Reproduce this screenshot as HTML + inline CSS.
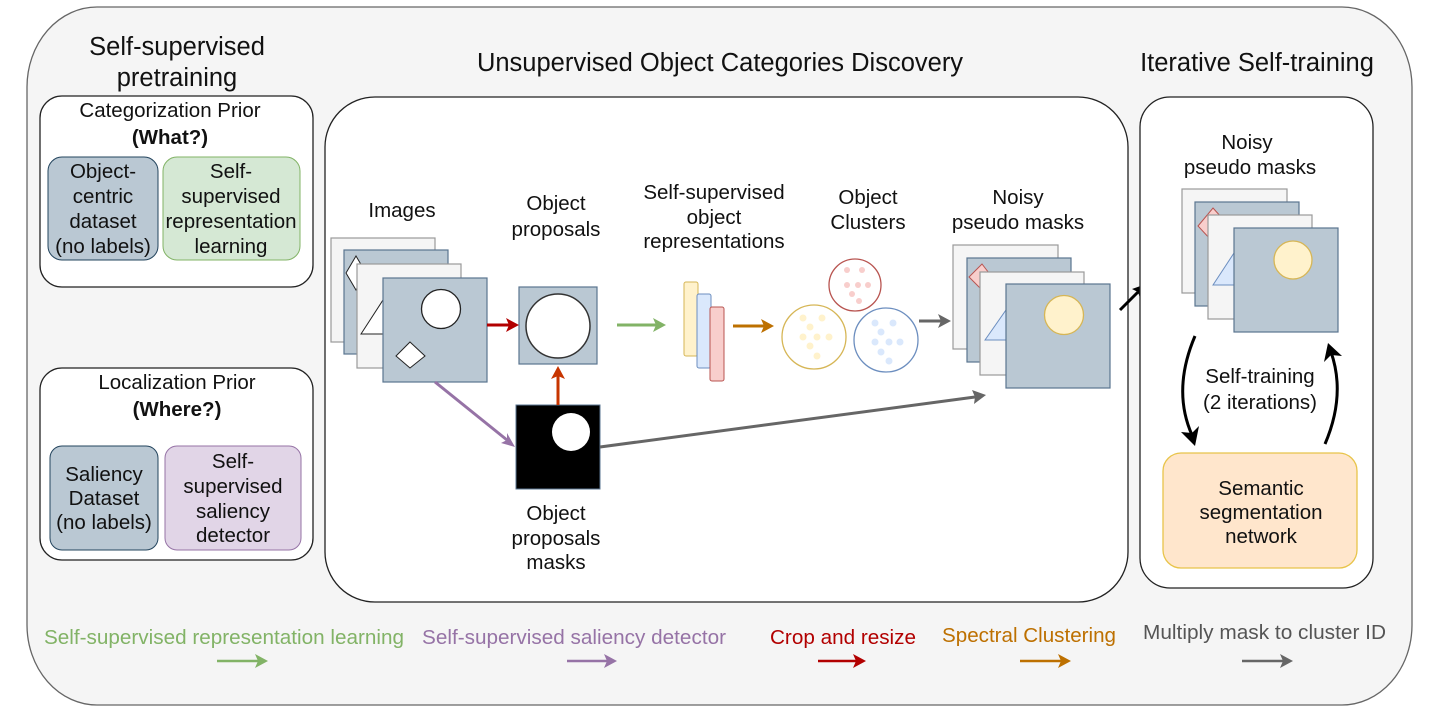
<!DOCTYPE html>
<html><head><meta charset="utf-8"><style>
html,body{margin:0;padding:0;background:#fff;}
svg{display:block;font-family:"Liberation Sans",Arial,sans-serif;}
</style></head><body>
<svg width="1429" height="717" viewBox="0 0 1429 717" xmlns="http://www.w3.org/2000/svg">
<!-- outer -->
<rect x="27" y="7" width="1385" height="698" rx="70" ry="80" fill="#f5f5f5" stroke="#666" stroke-width="1.3"/>

<!-- titles -->
<g font-size="25.5" fill="#111" text-anchor="middle">
<text x="177" y="55">Self-supervised</text>
<text x="177" y="86">pretraining</text>
<text x="720" y="71">Unsupervised Object Categories Discovery</text>
<text x="1257" y="71">Iterative Self-training</text>
</g>

<!-- left boxes -->
<rect x="40" y="96" width="273" height="191" rx="22" fill="#fff" stroke="#222" stroke-width="1.3"/>
<rect x="40" y="368" width="273" height="192" rx="22" fill="#fff" stroke="#222" stroke-width="1.3"/>
<g font-size="20.5" fill="#111" text-anchor="middle">
<text x="170" y="117">Categorization Prior</text>
<text x="170" y="144" font-weight="bold">(What?)</text>
<text x="177" y="389">Localization Prior</text>
<text x="177" y="416" font-weight="bold">(Where?)</text>
</g>
<rect x="48" y="157" width="110" height="103" rx="14" fill="#bac8d3" stroke="#23445d" stroke-width="1"/>
<rect x="163" y="157" width="137" height="103" rx="14" fill="#d5e8d4" stroke="#82b366" stroke-width="1"/>
<rect x="50" y="446" width="108" height="104" rx="12" fill="#bac8d3" stroke="#23445d" stroke-width="1"/>
<rect x="165" y="446" width="136" height="104" rx="12" fill="#e1d5e7" stroke="#9673a6" stroke-width="1"/>
<g font-size="20.5" fill="#111" text-anchor="middle">
<text x="103" y="178">Object-</text><text x="103" y="203">centric</text><text x="103" y="228">dataset</text><text x="103" y="253">(no labels)</text>
<text x="231" y="178">Self-</text><text x="231" y="203">supervised</text><text x="231" y="228">representation</text><text x="231" y="253">learning</text>
<text x="104" y="481">Saliency</text><text x="104" y="505">Dataset</text><text x="104" y="529">(no labels)</text>
<text x="233" y="468">Self-</text><text x="233" y="493">supervised</text><text x="233" y="518">saliency</text><text x="233" y="542">detector</text>
</g>

<!-- middle box -->
<rect x="325" y="97" width="803" height="505" rx="50" fill="#fff" stroke="#222" stroke-width="1.3"/>
<g font-size="20.5" fill="#111" text-anchor="middle">
<text x="402" y="217">Images</text>
<text x="556" y="210">Object</text><text x="556" y="236">proposals</text>
<text x="714" y="199">Self-supervised</text><text x="714" y="224">object</text><text x="714" y="248">representations</text>
<text x="868" y="204">Object</text><text x="868" y="229">Clusters</text>
<text x="1018" y="204">Noisy</text><text x="1018" y="229">pseudo masks</text>
<text x="556" y="520">Object</text><text x="556" y="545">proposals</text><text x="556" y="569">masks</text>
</g>

<!-- images stack -->
<rect x="331" y="238" width="104" height="104" fill="#f5f5f5" stroke="#999" stroke-width="1.2"/>
<rect x="344" y="250" width="104" height="104" fill="#bac8d3" stroke="#5a7490" stroke-width="1.2"/>
<path d="M356,256 L366,273 L356,290 L346,273 Z" fill="#fff" stroke="#222"/>
<rect x="357" y="264" width="104" height="104" fill="#f5f5f5" stroke="#999" stroke-width="1.2"/>
<path d="M361,334 L383,300 L383,334 Z" fill="#fff" stroke="#222"/>
<rect x="383" y="278" width="104" height="104" fill="#bac8d3" stroke="#5a7490" stroke-width="1.2"/>
<circle cx="441" cy="309" r="19.5" fill="#fff" stroke="#222" stroke-width="1.3"/>
<path d="M410,342 L425,356 L410,368 L396,356 Z" fill="#fff" stroke="#222"/>

<!-- proposal -->
<rect x="519" y="287" width="78" height="77" fill="#bac8d3" stroke="#5a7490" stroke-width="1.2"/>
<circle cx="558" cy="326" r="32" fill="#fff" stroke="#333" stroke-width="1.5"/>
<!-- mask -->
<rect x="516" y="405" width="84" height="84" fill="#000" stroke="#5a7490" stroke-width="1"/>
<circle cx="571" cy="432" r="19" fill="#fff"/>

<!-- arrows middle -->
<line x1="487" y1="325" x2="509" y2="325" stroke="#b20000" stroke-width="3"/>
<path d="M519,325 L506,318 L509,325 L506,332 Z" fill="#b20000"/>
<line x1="558" y1="405" x2="558" y2="376" stroke="#c73500" stroke-width="3"/>
<path d="M558,366 L551,379 L558,376 L565,379 Z" fill="#c73500"/>
<line x1="435" y1="382" x2="507" y2="440" stroke="#9673a6" stroke-width="3"/>
<path d="M515,447 L501,443 L507,440 L507,433 Z" fill="#9673a6"/>
<line x1="600" y1="447" x2="975" y2="397" stroke="#666" stroke-width="3"/>
<path d="M986,395 L972,390 L975,397 L974,404 Z" fill="#666"/>
<line x1="617" y1="325" x2="656" y2="325" stroke="#82b366" stroke-width="3"/>
<path d="M666,325 L653,318 L656,325 L653,332 Z" fill="#82b366"/>
<line x1="733" y1="326" x2="764" y2="326" stroke="#bd7000" stroke-width="3"/>
<path d="M774,326 L761,319 L764,326 L761,333 Z" fill="#bd7000"/>
<line x1="919" y1="321" x2="941" y2="321" stroke="#666" stroke-width="3"/>
<path d="M951,321 L938,314 L941,321 L938,328 Z" fill="#666"/>
<line x1="1120" y1="310" x2="1138" y2="292" stroke="#000" stroke-width="3"/>
<path d="M1146,284 L1132,289 L1138,292 L1140,298 Z" fill="#000"/>

<!-- features -->
<rect x="684" y="282" width="14" height="74" rx="2" fill="#fff2cc" stroke="#d6b656"/>
<rect x="697" y="294" width="14" height="74" rx="2" fill="#dae8fc" stroke="#6c8ebf"/>
<rect x="710" y="307" width="14" height="74" rx="2" fill="#f8cecc" stroke="#b85450"/>

<!-- clusters -->
<circle cx="814" cy="337" r="32" fill="#fff" stroke="#d6b656" stroke-width="1.3"/>
<circle cx="855" cy="285" r="26" fill="#fff" stroke="#b85450" stroke-width="1.3"/>
<circle cx="886" cy="340" r="32" fill="#fff" stroke="#6c8ebf" stroke-width="1.3"/>
<g fill="#fff2cc"><circle cx="803" cy="318" r="3.5"/><circle cx="822" cy="318" r="3.5"/><circle cx="810" cy="327" r="3.5"/><circle cx="803" cy="337" r="3.5"/><circle cx="817" cy="337" r="3.5"/><circle cx="829" cy="337" r="3.5"/><circle cx="810" cy="346" r="3.5"/><circle cx="817" cy="356" r="3.5"/></g>
<g fill="#f8cecc"><circle cx="847" cy="270" r="3"/><circle cx="862" cy="270" r="3"/><circle cx="847" cy="285" r="3"/><circle cx="858" cy="285" r="3"/><circle cx="868" cy="285" r="3"/><circle cx="852" cy="294" r="3"/><circle cx="859" cy="301" r="3"/></g>
<g fill="#dae8fc"><circle cx="875" cy="323" r="3.5"/><circle cx="893" cy="323" r="3.5"/><circle cx="881" cy="332" r="3.5"/><circle cx="875" cy="342" r="3.5"/><circle cx="889" cy="342" r="3.5"/><circle cx="900" cy="342" r="3.5"/><circle cx="881" cy="352" r="3.5"/><circle cx="889" cy="361" r="3.5"/></g>

<!-- noisy stack middle -->
<rect x="953" y="245" width="105" height="104" fill="#f5f5f5" stroke="#999" stroke-width="1.2"/>
<rect x="967" y="258" width="104" height="104" fill="#bac8d3" stroke="#5a7490" stroke-width="1.2"/>
<path d="M982,264 L992,277 L982,290 L969,277 Z" fill="#f8cecc" stroke="#b85450"/>
<rect x="980" y="272" width="104" height="103" fill="#f5f5f5" stroke="#999" stroke-width="1.2"/>
<path d="M985,340 L1006,310 L1006,340 Z" fill="#dae8fc" stroke="#6c8ebf"/>
<rect x="1006" y="284" width="104" height="104" fill="#bac8d3" stroke="#5a7490" stroke-width="1.2"/>
<circle cx="1064" cy="315" r="19.5" fill="#fff2cc" stroke="#d6b656" stroke-width="1.3"/>

<!-- right box -->
<rect x="1140" y="97" width="233" height="491" rx="30" fill="#fff" stroke="#222" stroke-width="1.3"/>
<g font-size="20.5" fill="#111" text-anchor="middle">
<text x="1247" y="149">Noisy</text><text x="1250" y="174">pseudo masks</text>
<text x="1260" y="383">Self-training</text><text x="1260" y="409">(2 iterations)</text>
</g>
<rect x="1182" y="189" width="105" height="104" fill="#f5f5f5" stroke="#999" stroke-width="1.2"/>
<rect x="1195" y="202" width="104" height="104" fill="#bac8d3" stroke="#5a7490" stroke-width="1.2"/>
<path d="M1213,208 L1222,218 L1211,240 L1198,226 Z" fill="#f8cecc" stroke="#b85450"/>
<rect x="1208" y="215" width="104" height="104" fill="#f5f5f5" stroke="#999" stroke-width="1.2"/>
<path d="M1213,285 L1234,253 L1234,285 Z" fill="#dae8fc" stroke="#6c8ebf"/>
<rect x="1234" y="228" width="104" height="104" fill="#bac8d3" stroke="#5a7490" stroke-width="1.2"/>
<circle cx="1293" cy="260" r="19" fill="#fff2cc" stroke="#d6b656" stroke-width="1.3"/>

<path d="M1195,336 Q1172,390 1192,435" fill="none" stroke="#000" stroke-width="3"/>
<path d="M1195,446 L1181,432 L1192,433 L1199,426 Z" fill="#000"/>
<path d="M1325,444 Q1346,395 1331,352" fill="none" stroke="#000" stroke-width="3"/>
<path d="M1328,343 L1342,356 L1331,355 L1324,362 Z" fill="#000"/>

<rect x="1163" y="453" width="194" height="115" rx="18" fill="#ffe6cc" stroke="#e8c44a" stroke-width="1.3"/>
<g font-size="20.5" fill="#111" text-anchor="middle">
<text x="1261" y="495">Semantic</text><text x="1261" y="519">segmentation</text><text x="1261" y="543">network</text>
</g>

<!-- legend -->
<g font-size="20">
<text x="44" y="644" fill="#82b366" textLength="360" lengthAdjust="spacingAndGlyphs">Self-supervised representation learning</text>
<text x="422" y="644" fill="#9673a6" textLength="304" lengthAdjust="spacingAndGlyphs">Self-supervised saliency detector</text>
<text x="770" y="644" fill="#b20000" textLength="146" lengthAdjust="spacingAndGlyphs">Crop and resize</text>
<text x="942" y="642" fill="#bd7000" textLength="174" lengthAdjust="spacingAndGlyphs">Spectral Clustering</text>
<text x="1143" y="639" fill="#555" textLength="243" lengthAdjust="spacingAndGlyphs">Multiply mask to cluster ID</text>
</g>
<g stroke-width="2.5">
<line x1="217" y1="661" x2="258" y2="661" stroke="#82b366"/><path d="M268,661 L255,654 L258,661 L255,668 Z" fill="#82b366"/>
<line x1="567" y1="661" x2="607" y2="661" stroke="#9673a6"/><path d="M617,661 L604,654 L607,661 L604,668 Z" fill="#9673a6"/>
<line x1="818" y1="661" x2="856" y2="661" stroke="#b20000"/><path d="M866,661 L853,654 L856,661 L853,668 Z" fill="#b20000"/>
<line x1="1020" y1="661" x2="1061" y2="661" stroke="#bd7000"/><path d="M1071,661 L1058,654 L1061,661 L1058,668 Z" fill="#bd7000"/>
<line x1="1242" y1="661" x2="1283" y2="661" stroke="#666"/><path d="M1293,661 L1280,654 L1283,661 L1280,668 Z" fill="#666"/>
</g>
</svg>
</body></html>
